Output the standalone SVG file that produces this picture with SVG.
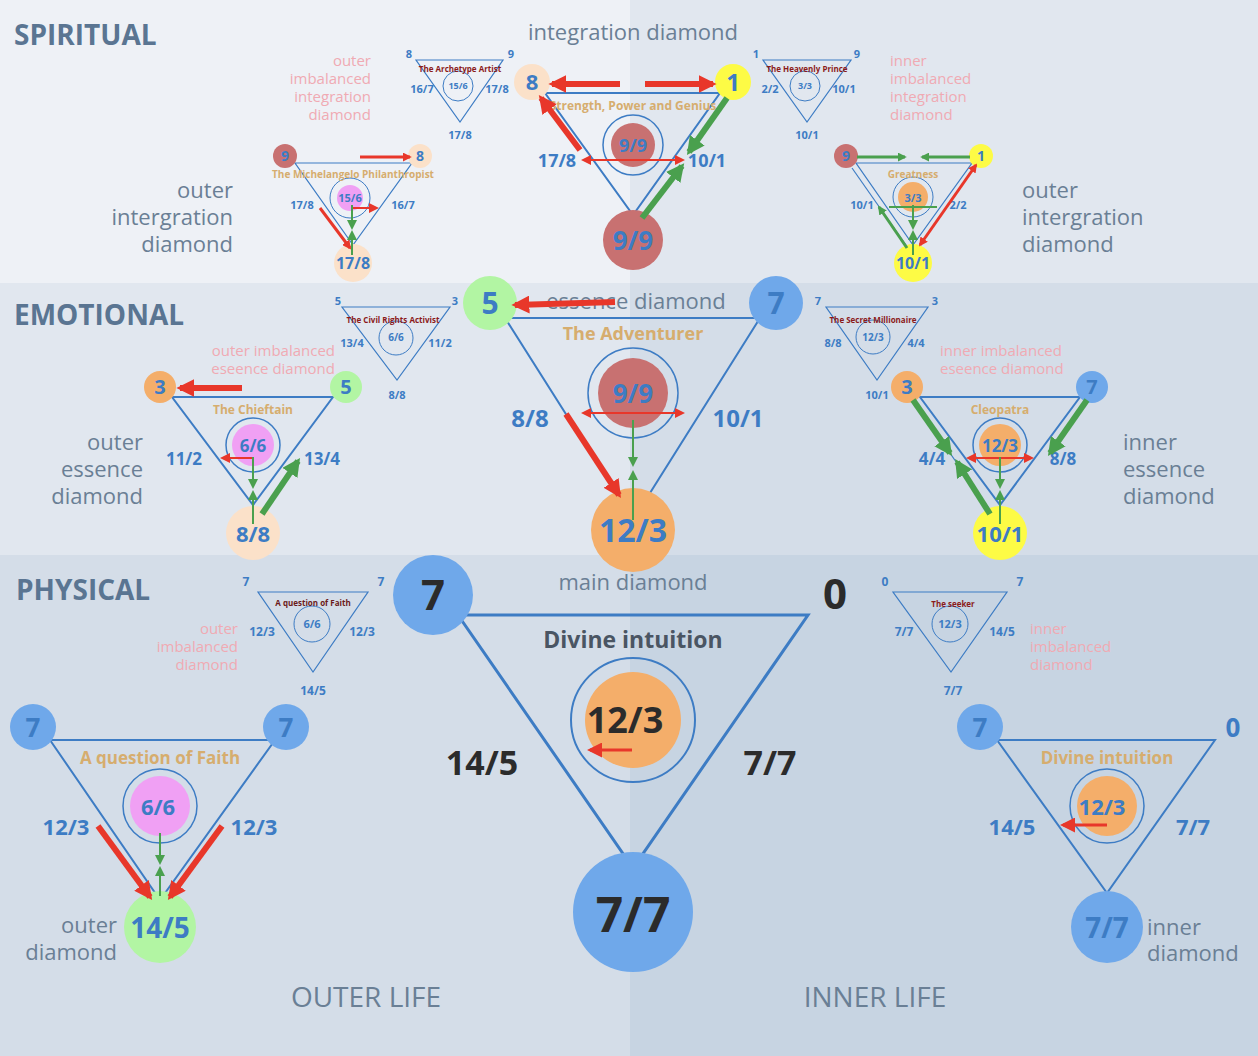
<svg xmlns="http://www.w3.org/2000/svg" width="1258" height="1056" viewBox="0 0 1258 1056">
<defs>
<marker id="r" viewBox="0 0 10 10" refX="8" refY="5" markerWidth="3" markerHeight="3" orient="auto-start-reverse"><path d="M0,0L10,5L0,10z" fill="#e8372a"/></marker>
<marker id="g" viewBox="0 0 10 10" refX="8" refY="5" markerWidth="3" markerHeight="3" orient="auto-start-reverse"><path d="M0,0L10,5L0,10z" fill="#4aa04e"/></marker>
<marker id="rs" viewBox="0 0 10 10" refX="8" refY="5" markerWidth="5" markerHeight="5" orient="auto-start-reverse"><path d="M0,0L10,5L0,10z" fill="#e8372a"/></marker>
<marker id="gs" viewBox="0 0 10 10" refX="8" refY="5" markerWidth="5" markerHeight="5" orient="auto-start-reverse"><path d="M0,0L10,5L0,10z" fill="#4aa04e"/></marker>
</defs>
<style>
text{font-family:"Open Sans","Noto Sans",sans-serif;text-anchor:middle}
.tri{fill:none;stroke:#3d7cc4;stroke-width:2}
.ts{fill:none;stroke:#3d7cc4;stroke-width:1.2}
.ring{fill:none;stroke:#3d7cc4;stroke-width:1.5}
.n{fill:#3d7cc4;font-weight:bold}
.k{fill:#2b2b2b;font-weight:bold}
.gold{fill:#d6ad6e;font-weight:bold}
.dr{fill:#8b1a1a;font-weight:bold;font-size:8px}
.grey{fill:#6a7f95;font-size:22px}
.pk{fill:#f0aab3;font-size:15px}
.hd{fill:#5a7592;font-weight:bold;font-size:28px;text-anchor:start}
.ra{stroke:#e8372a;fill:none}
.ga{stroke:#4aa04e;fill:none}
</style>
<g id="bg">
<rect x="0" y="0" width="630" height="283" fill="#eef1f6"/>
<rect x="630" y="0" width="628" height="283" fill="#e1e7ef"/>
<rect x="0" y="283" width="630" height="272" fill="#e1e7ef"/>
<rect x="630" y="283" width="628" height="272" fill="#d4dde8"/>
<rect x="0" y="555" width="630" height="501" fill="#d4dde8"/>
<rect x="630" y="555" width="628" height="501" fill="#c7d4e2"/>
</g>
<g id="labels">
<text class="hd" x="14" y="45">SPIRITUAL</text>
<text class="hd" x="14" y="325">EMOTIONAL</text>
<text class="hd" x="16" y="600">PHYSICAL</text>
<text class="grey" x="633" y="40">integration diamond</text>
<text class="grey" x="636" y="309">essence diamond</text>
<text class="grey" x="633" y="590">main diamond</text>
<text class="grey" x="233" y="198" text-anchor="end" style="text-anchor:end">outer</text>
<text class="grey" x="233" y="225" style="text-anchor:end">intergration</text>
<text class="grey" x="233" y="252" style="text-anchor:end">diamond</text>
<text class="grey" x="1022" y="198" style="text-anchor:start">outer</text>
<text class="grey" x="1022" y="225" style="text-anchor:start">intergration</text>
<text class="grey" x="1022" y="252" style="text-anchor:start">diamond</text>
<text class="grey" x="143" y="450" style="text-anchor:end">outer</text>
<text class="grey" x="143" y="477" style="text-anchor:end">essence</text>
<text class="grey" x="143" y="504" style="text-anchor:end">diamond</text>
<text class="grey" x="1123" y="450" style="text-anchor:start">inner</text>
<text class="grey" x="1123" y="477" style="text-anchor:start">essence</text>
<text class="grey" x="1123" y="504" style="text-anchor:start">diamond</text>
<text class="grey" x="117" y="933" style="text-anchor:end">outer</text>
<text class="grey" x="117" y="960" style="text-anchor:end">diamond</text>
<text class="grey" x="1147" y="935" style="text-anchor:start">inner</text>
<text class="grey" x="1147" y="961" style="text-anchor:start">diamond</text>
<text class="grey" x="366" y="1007" style="font-size:28px">OUTER LIFE</text>
<text class="grey" x="875" y="1007" style="font-size:28px">INNER LIFE</text>
<g class="pk" style="text-anchor:end">
<text x="371" y="66" style="text-anchor:end">outer</text><text x="371" y="84" style="text-anchor:end">imbalanced</text><text x="371" y="102" style="text-anchor:end">integration</text><text x="371" y="120" style="text-anchor:end">diamond</text>
<text x="335" y="356" style="text-anchor:end">outer imbalanced</text><text x="335" y="374" style="text-anchor:end">eseence diamond</text>
<text x="238" y="634" style="text-anchor:end">outer</text><text x="238" y="652" style="text-anchor:end">imbalanced</text><text x="238" y="670" style="text-anchor:end">diamond</text>
</g>
<g class="pk">
<text x="890" y="66" style="text-anchor:start">inner</text><text x="890" y="84" style="text-anchor:start">imbalanced</text><text x="890" y="102" style="text-anchor:start">integration</text><text x="890" y="120" style="text-anchor:start">diamond</text>
<text x="940" y="356" style="text-anchor:start">inner imbalanced</text><text x="940" y="374" style="text-anchor:start">eseence diamond</text>
<text x="1030" y="634" style="text-anchor:start">inner</text><text x="1030" y="652" style="text-anchor:start">imbalanced</text><text x="1030" y="670" style="text-anchor:start">diamond</text>
</g>
</g>
<g id="small-archetype">
<path class="ts" d="M416,60L503,60L460,122z"/><circle class="ring" cx="458" cy="86" r="15" style="stroke-width:1"/>
<text class="dr" x="460" y="72">The Archetype Artist</text>
<g class="n" style="font-size:11px"><text x="409" y="58">8</text><text x="511" y="58">9</text><text x="422" y="93">16/7</text><text x="497" y="93">17/8</text><text x="458" y="89" style="font-size:9px">15/6</text><text x="460" y="139">17/8</text></g>
</g>
<g id="small-heavenly">
<path class="ts" d="M763,60L851,60L807,122z"/><circle class="ring" cx="805" cy="86" r="15" style="stroke-width:1"/>
<text class="dr" x="807" y="72">The Heavenly Prince</text>
<g class="n" style="font-size:11px"><text x="756" y="58">1</text><text x="857" y="58">9</text><text x="770" y="93">2/2</text><text x="844" y="93">10/1</text><text x="805" y="89" style="font-size:9px">3/3</text><text x="807" y="139">10/1</text></g>
</g>
<g id="small-civil">
<path class="ts" d="M342,307L450,307L397,380z"/><circle class="ring" cx="396" cy="338" r="17" style="stroke-width:1"/>
<text class="dr" x="393" y="323">The Civil Rights Activist</text>
<g class="n" style="font-size:11px"><text x="338" y="305">5</text><text x="455" y="305">3</text><text x="352" y="347">13/4</text><text x="440" y="347">11/2</text><text x="396" y="341" style="font-size:10px">6/6</text><text x="397" y="399">8/8</text></g>
</g>
<g id="small-secret">
<path class="ts" d="M826,307L928,307L877,380z"/><circle class="ring" cx="873" cy="337" r="17" style="stroke-width:1"/>
<text class="dr" x="873" y="323">The Secret Millionaire</text>
<g class="n" style="font-size:11px"><text x="818" y="305">7</text><text x="935" y="305">3</text><text x="833" y="347">8/8</text><text x="916" y="347">4/4</text><text x="873" y="341" style="font-size:10px">12/3</text><text x="877" y="399">10/1</text></g>
</g>
<g id="small-faith">
<path class="ts" d="M258,592L368,592L313,672z"/><circle class="ring" cx="312" cy="624" r="18" style="stroke-width:1"/>
<text class="dr" x="313" y="606" style="fill:#6b1a1a">A question of Faith</text>
<g class="n" style="font-size:12px"><text x="246" y="586">7</text><text x="381" y="586">7</text><text x="262" y="636">12/3</text><text x="362" y="636">12/3</text><text x="312" y="628" style="font-size:11px">6/6</text><text x="313" y="695">14/5</text></g>
</g>
<g id="small-seeker">
<path class="ts" d="M893,592L1007,592L951,672z"/><circle class="ring" cx="950" cy="624" r="18" style="stroke-width:1"/>
<text class="dr" x="953" y="607">The seeker</text>
<g class="n" style="font-size:12px"><text x="885" y="586">0</text><text x="1020" y="586">7</text><text x="904" y="636">7/7</text><text x="1002" y="636">14/5</text><text x="950" y="628" style="font-size:11px">12/3</text><text x="953" y="695">7/7</text></g>
</g>
<g id="integration">
<path class="tri" d="M545,93L720,93L633,215z"/>
<circle cx="532" cy="82" r="18" fill="#fbe1c9"/><circle cx="733" cy="82" r="18" fill="#fdfb45"/>
<circle cx="633" cy="240" r="30" fill="#c87171"/>
<circle cx="633" cy="145" r="22" fill="#c87171"/><circle class="ring" cx="633" cy="145" r="30"/>
<text class="gold" x="633" y="110" style="font-size:12px">Strength, Power and Genius</text>
<g class="n"><text x="532" y="90" style="font-size:22px">8</text><text x="733" y="91" style="font-size:24px">1</text><text x="633" y="250" style="font-size:26px">9/9</text><text x="633" y="152" style="font-size:18px">9/9</text><text x="557" y="167" style="font-size:18px">17/8</text><text x="707" y="167" style="font-size:18px">10/1</text></g>
</g>
<g id="michelangelo">
<path class="ts" d="M295,163L412,163L353,245z"/>
<circle cx="285" cy="156" r="12" fill="#c87171"/><circle cx="420" cy="156" r="12" fill="#fbe1c9"/><circle cx="353" cy="263" r="19" fill="#fbe1c9"/>
<circle cx="350" cy="198" r="13" fill="#f0a0f4"/><circle class="ring" cx="350" cy="198" r="20" style="stroke-width:1"/>
<text class="gold" x="353" y="178" style="font-size:10px">The Michelangelo Philanthropist</text>
<g class="n"><text x="285" y="161" style="font-size:14px">9</text><text x="420" y="161" style="font-size:14px">8</text><text x="353" y="269" style="font-size:16px">17/8</text><text x="350" y="202" style="font-size:11px">15/6</text><text x="302" y="209" style="font-size:11px">17/8</text><text x="403" y="209" style="font-size:11px">16/7</text></g>
</g>
<g id="greatness">
<path class="ts" d="M856,163L972,163L913,245z"/><path class="ts" d="M852,168L908,248"/>
<circle cx="846" cy="156" r="12" fill="#c87171"/><circle cx="981" cy="156" r="12" fill="#fdfb45"/><circle cx="913" cy="263" r="19" fill="#fdfb45"/>
<circle cx="913" cy="197" r="15" fill="#f4ae6a"/><circle class="ring" cx="913" cy="197" r="20" style="stroke-width:1"/>
<text class="gold" x="913" y="178" style="font-size:10px">Greatness</text>
<g class="n"><text x="846" y="161" style="font-size:14px">9</text><text x="981" y="161" style="font-size:14px">1</text><text x="913" y="269" style="font-size:16px">10/1</text><text x="913" y="202" style="font-size:11px">3/3</text><text x="862" y="209" style="font-size:11px">10/1</text><text x="958" y="209" style="font-size:11px">2/2</text></g>
</g>
<g id="essence">
<path class="tri" d="M505,318L760,318L633,520z"/>
<circle cx="490" cy="303" r="27" fill="#b2f5a3"/><circle cx="776" cy="303" r="27" fill="#6fa8ea"/>
<circle cx="633" cy="530" r="42" fill="#f4ae6a"/>
<circle cx="633" cy="393" r="35" fill="#c87171"/><circle class="ring" cx="633" cy="393" r="45"/>
<text class="gold" x="633" y="340" style="font-size:18px">The Adventurer</text>
<g class="n"><text x="490" y="314" style="font-size:30px">5</text><text x="776" y="314" style="font-size:30px">7</text><text x="633" y="542" style="font-size:32px">12/3</text><text x="633" y="403" style="font-size:26px">9/9</text><text x="530" y="427" style="font-size:24px">8/8</text><text x="738" y="427" style="font-size:24px">10/1</text></g>
</g>
<g id="chieftain">
<path class="tri" d="M172,397L333,397L253,505z"/>
<circle cx="160" cy="387" r="16" fill="#f4ae6a"/><circle cx="346" cy="387" r="16" fill="#b2f5a3"/><circle cx="253" cy="533" r="27" fill="#fbe1c9"/>
<circle cx="253" cy="445" r="21" fill="#f0a0f4"/><circle class="ring" cx="253" cy="445" r="27"/>
<text class="gold" x="253" y="414" style="font-size:12px">The Chieftain</text>
<g class="n"><text x="160" y="394" style="font-size:20px">3</text><text x="346" y="394" style="font-size:20px">5</text><text x="253" y="542" style="font-size:22px">8/8</text><text x="253" y="452" style="font-size:17px">6/6</text><text x="184" y="465" style="font-size:17px">11/2</text><text x="322" y="465" style="font-size:17px">13/4</text></g>
</g>
<g id="cleopatra">
<path class="tri" d="M920,397L1080,397L1000,505z"/><path class="ts" d="M914,402L990,510"/>
<circle cx="907" cy="387" r="16" fill="#f4ae6a"/><circle cx="1092" cy="387" r="16" fill="#6fa8ea"/><circle cx="1000" cy="533" r="27" fill="#fdfb45"/>
<circle cx="1000" cy="445" r="21" fill="#f4ae6a"/><circle class="ring" cx="1000" cy="445" r="27"/>
<text class="gold" x="1000" y="414" style="font-size:12px">Cleopatra</text>
<g class="n"><text x="907" y="394" style="font-size:20px">3</text><text x="1092" y="394" style="font-size:20px">7</text><text x="1000" y="542" style="font-size:22px">10/1</text><text x="1000" y="452" style="font-size:17px">12/3</text><text x="932" y="465" style="font-size:17px">4/4</text><text x="1063" y="465" style="font-size:17px">8/8</text></g>
</g>
<g id="main">
<path class="tri" d="M458,615L808,615L633,868z" style="stroke-width:3"/>
<circle cx="433" cy="595" r="40" fill="#6fa8ea"/><circle cx="633" cy="912" r="60" fill="#6fa8ea"/>
<circle cx="633" cy="720" r="48" fill="#f4ae6a"/><circle class="ring" cx="633" cy="720" r="62" style="stroke-width:2"/>
<text x="633" y="648" style="fill:#4a5563;font-weight:bold;font-size:23px">Divine intuition</text>
<g class="k"><text x="433" y="610" style="font-size:42px">7</text><text x="835" y="609" style="font-size:42px">0</text><text x="633" y="932" style="font-size:48px">7/7</text><text x="625" y="733" style="font-size:36px">12/3</text><text x="482" y="775" style="font-size:34px">14/5</text><text x="770" y="775" style="font-size:34px">7/7</text></g>
</g>
<g id="outer">
<path class="tri" d="M50,740L275,740L160,900z"/>
<circle cx="33" cy="727" r="23" fill="#6fa8ea"/><circle cx="286" cy="727" r="23" fill="#6fa8ea"/><circle cx="160" cy="927" r="36" fill="#b2f5a3"/>
<circle cx="160" cy="806" r="30" fill="#f0a0f4"/><circle class="ring" cx="160" cy="806" r="37"/>
<text class="gold" x="160" y="764" style="font-size:17px">A question of Faith</text>
<g class="n"><text x="33" y="737" style="font-size:26px">7</text><text x="286" y="737" style="font-size:26px">7</text><text x="160" y="938" style="font-size:28px">14/5</text><text x="158" y="815" style="font-size:22px">6/6</text><text x="66" y="835" style="font-size:22px">12/3</text><text x="254" y="835" style="font-size:22px">12/3</text></g>
</g>
<g id="inner">
<path class="tri" d="M997,740L1215,740L1107,893z"/>
<circle cx="980" cy="727" r="23" fill="#6fa8ea"/><circle cx="1107" cy="927" r="36" fill="#6fa8ea"/>
<circle cx="1107" cy="806" r="30" fill="#f4ae6a"/><circle class="ring" cx="1107" cy="806" r="37"/>
<text class="gold" x="1107" y="764" style="font-size:17px">Divine intuition</text>
<g class="n"><text x="980" y="737" style="font-size:26px">7</text><text x="1233" y="737" style="font-size:26px">0</text><text x="1107" y="938" style="font-size:28px">7/7</text><text x="1102" y="815" style="font-size:22px">12/3</text><text x="1012" y="835" style="font-size:22px">14/5</text><text x="1193" y="835" style="font-size:22px">7/7</text></g>
</g>
<g id="connectors">
<g class="ra" stroke-width="6">
<path d="M620,84L552,84" marker-end="url(#r)"/><path d="M645,84L713,84" marker-end="url(#r)"/><path d="M580,150L541,98" marker-end="url(#r)"/>
<path d="M615,302L515,305" marker-end="url(#r)"/><path d="M566,414L619,495" marker-end="url(#r)"/>
<path d="M98,826L150,897" marker-end="url(#r)"/><path d="M222,826L170,897" marker-end="url(#r)"/>
<path d="M242,388L180,388" marker-end="url(#r)"/>
</g>
<g class="ga" stroke-width="6">
<path d="M727,98L689,152" marker-end="url(#g)"/><path d="M642,218L682,166" marker-end="url(#g)"/>
<path d="M262,514L298,461" marker-end="url(#g)"/>
<path d="M913,400L950,453" marker-end="url(#g)"/><path d="M990,514L957,462" marker-end="url(#g)"/><path d="M1087,400L1050,453" marker-end="url(#g)"/>
</g>
<g class="ra" stroke-width="3">
<path d="M360,157L410,157" marker-end="url(#r)"/><path d="M320,208L350,248" marker-end="url(#r)"/>
<path d="M976,165L920,245" marker-start="url(#r)" marker-end="url(#r)"/>
<path d="M632,750L590,750" marker-end="url(#rs)"/><path d="M1107,825L1063,825" marker-end="url(#rs)"/>
</g>
<g class="ga" stroke-width="3">
<path d="M857,157L905,157" marker-end="url(#g)"/><path d="M970,157L922,157" marker-end="url(#g)"/>
<path d="M907,248L879,207" marker-end="url(#g)"/>
</g>
<g class="ra" stroke-width="2">
<path d="M583,160L683,160" marker-start="url(#rs)" marker-end="url(#rs)"/>
<path d="M583,413L683,413" marker-start="url(#rs)" marker-end="url(#rs)"/>
<path d="M968,458L1032,458" marker-start="url(#rs)" marker-end="url(#rs)"/>
<path d="M253,458L222,458" marker-end="url(#rs)"/><path d="M352,208L377,208" marker-end="url(#rs)"/>
</g>
<g class="ga" stroke-width="2">
<path d="M889,207L937,207"/>
<path d="M352,205L352,228" marker-end="url(#gs)"/><path d="M352,255L352,232" marker-end="url(#gs)"/>
<path d="M913,205L913,228" marker-end="url(#gs)"/><path d="M913,255L913,232" marker-end="url(#gs)"/>
<path d="M633,420L633,465" marker-end="url(#gs)"/><path d="M633,520L633,472" marker-end="url(#gs)"/>
<path d="M253,457L253,487" marker-end="url(#gs)"/><path d="M253,524L253,492" marker-end="url(#gs)"/>
<path d="M1000,457L1000,487" marker-end="url(#gs)"/><path d="M1000,524L1000,492" marker-end="url(#gs)"/>
<path d="M160,833L160,863" marker-end="url(#gs)"/><path d="M160,896L160,868" marker-end="url(#gs)"/>
</g>
</g>
</svg>
